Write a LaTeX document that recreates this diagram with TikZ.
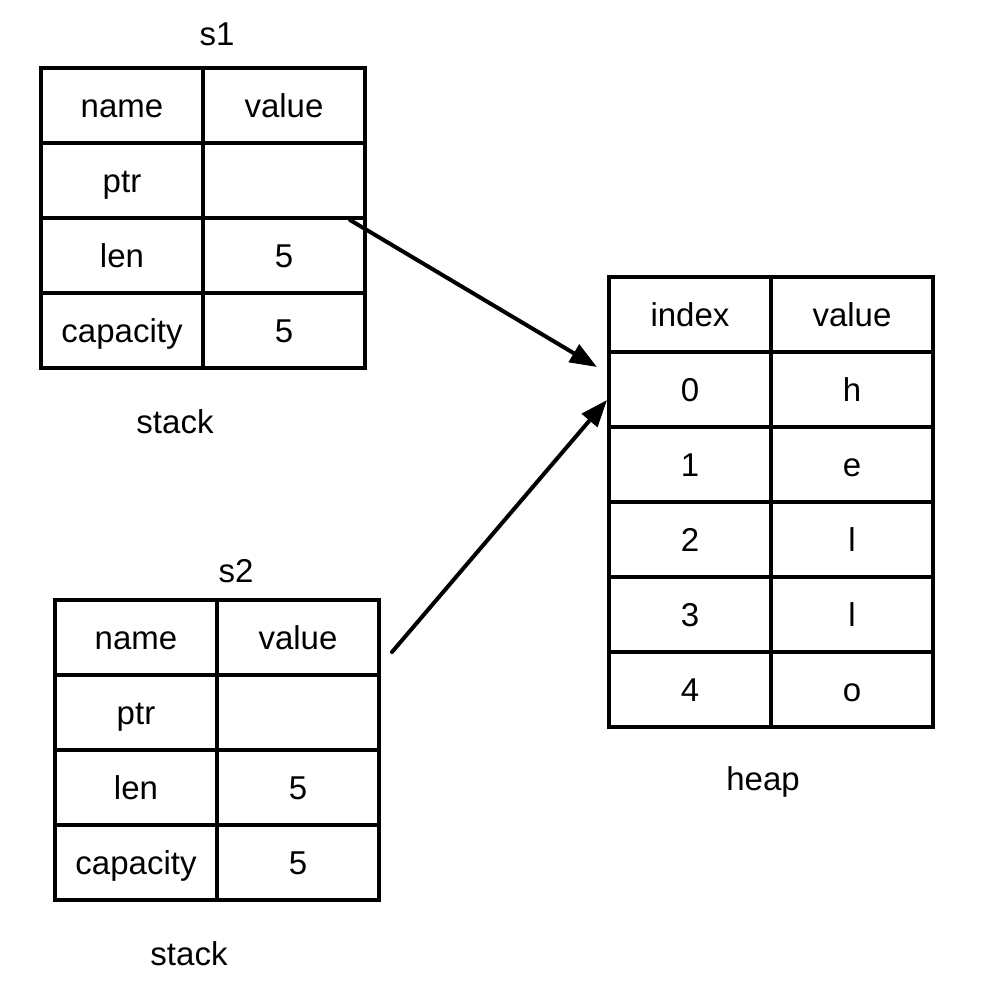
\documentclass[tikz,border=0pt]{standalone}
\usepackage{fontspec}
\setmainfont{Liberation Sans}
\usetikzlibrary{arrows.meta}

\begin{document}
\begin{tikzpicture}[
    x=1pt, y=-1pt,
    cell/.style={draw, line width=4pt, outer sep=0pt, minimum width=162pt, minimum height=75pt,
        font=\fontsize{33}{40}\selectfont, text height=26pt, text depth=2pt},
    label/.style={font=\fontsize{33}{40}\selectfont, text height=26pt, text depth=2pt},
    ptr/.style={draw, line width=4pt, line cap=round, -{Triangle[length=27pt, width=20pt]}}
]
\useasboundingbox (0,0) rectangle (992,986);

% Define s1 table
\node[label] (s1) at (217, 33) {s1};
\node[cell] (s1-name) at (122, 105.5) {name};
\node[cell] (s1-value) at (284, 105.5) {value};
\node[cell] (s1-ptr) at (122, 180.5) {ptr};
\node[cell] (s1-ptr-v) at (284, 180.5) {};
\node[cell] (s1-len) at (122, 255.5) {len};
\node[cell] (s1-len-v) at (284, 255.5) {5};
\node[cell] (s1-cap) at (122, 330.5) {capacity};
\node[cell] (s1-cap-v) at (284, 330.5) {5};
\node[label] (stack1) at (175, 421) {stack};

% Define s2 table
\node[label] (s2) at (236, 570) {s2};
\node[cell] (s2-name) at (136, 637.5) {name};
\node[cell] (s2-value) at (298, 637.5) {value};
\node[cell] (s2-ptr) at (136, 712.5) {ptr};
\node[cell] (s2-ptr-v) at (298, 712.5) {};
\node[cell] (s2-len) at (136, 787.5) {len};
\node[cell] (s2-len-v) at (298, 787.5) {5};
\node[cell] (s2-cap) at (136, 862.5) {capacity};
\node[cell] (s2-cap-v) at (298, 862.5) {5};
\node[label] (stack2) at (189, 953) {stack};

% Define heap table
\node[cell] (h-index) at (690, 314) {index};
\node[cell] (h-value) at (852, 314) {value};
\node[cell] (h0-i) at (690, 389) {0};
\node[cell] (h0-v) at (852, 389) {h};
\node[cell] (h1-i) at (690, 464) {1};
\node[cell] (h1-v) at (852, 464) {e};
\node[cell] (h2-i) at (690, 539) {2};
\node[cell] (h2-v) at (852, 539) {l};
\node[cell] (h3-i) at (690, 614) {3};
\node[cell] (h3-v) at (852, 614) {l};
\node[cell] (h4-i) at (690, 689) {4};
\node[cell] (h4-v) at (852, 689) {o};
\node[label] (heap) at (763, 778) {heap};

% Define pointers
\path[ptr] ([xshift=-15pt, yshift=-2pt]s1-ptr-v.south east) -- ([xshift=-12pt, yshift=22pt]h0-i.west); % s1 ptr
\path[ptr] ([xshift=13pt, yshift=-14.5pt]s2-value.east) -- ([xshift=-2pt, yshift=-11pt]h0-i.west); % s2 ptr

\end{tikzpicture}
\end{document}
